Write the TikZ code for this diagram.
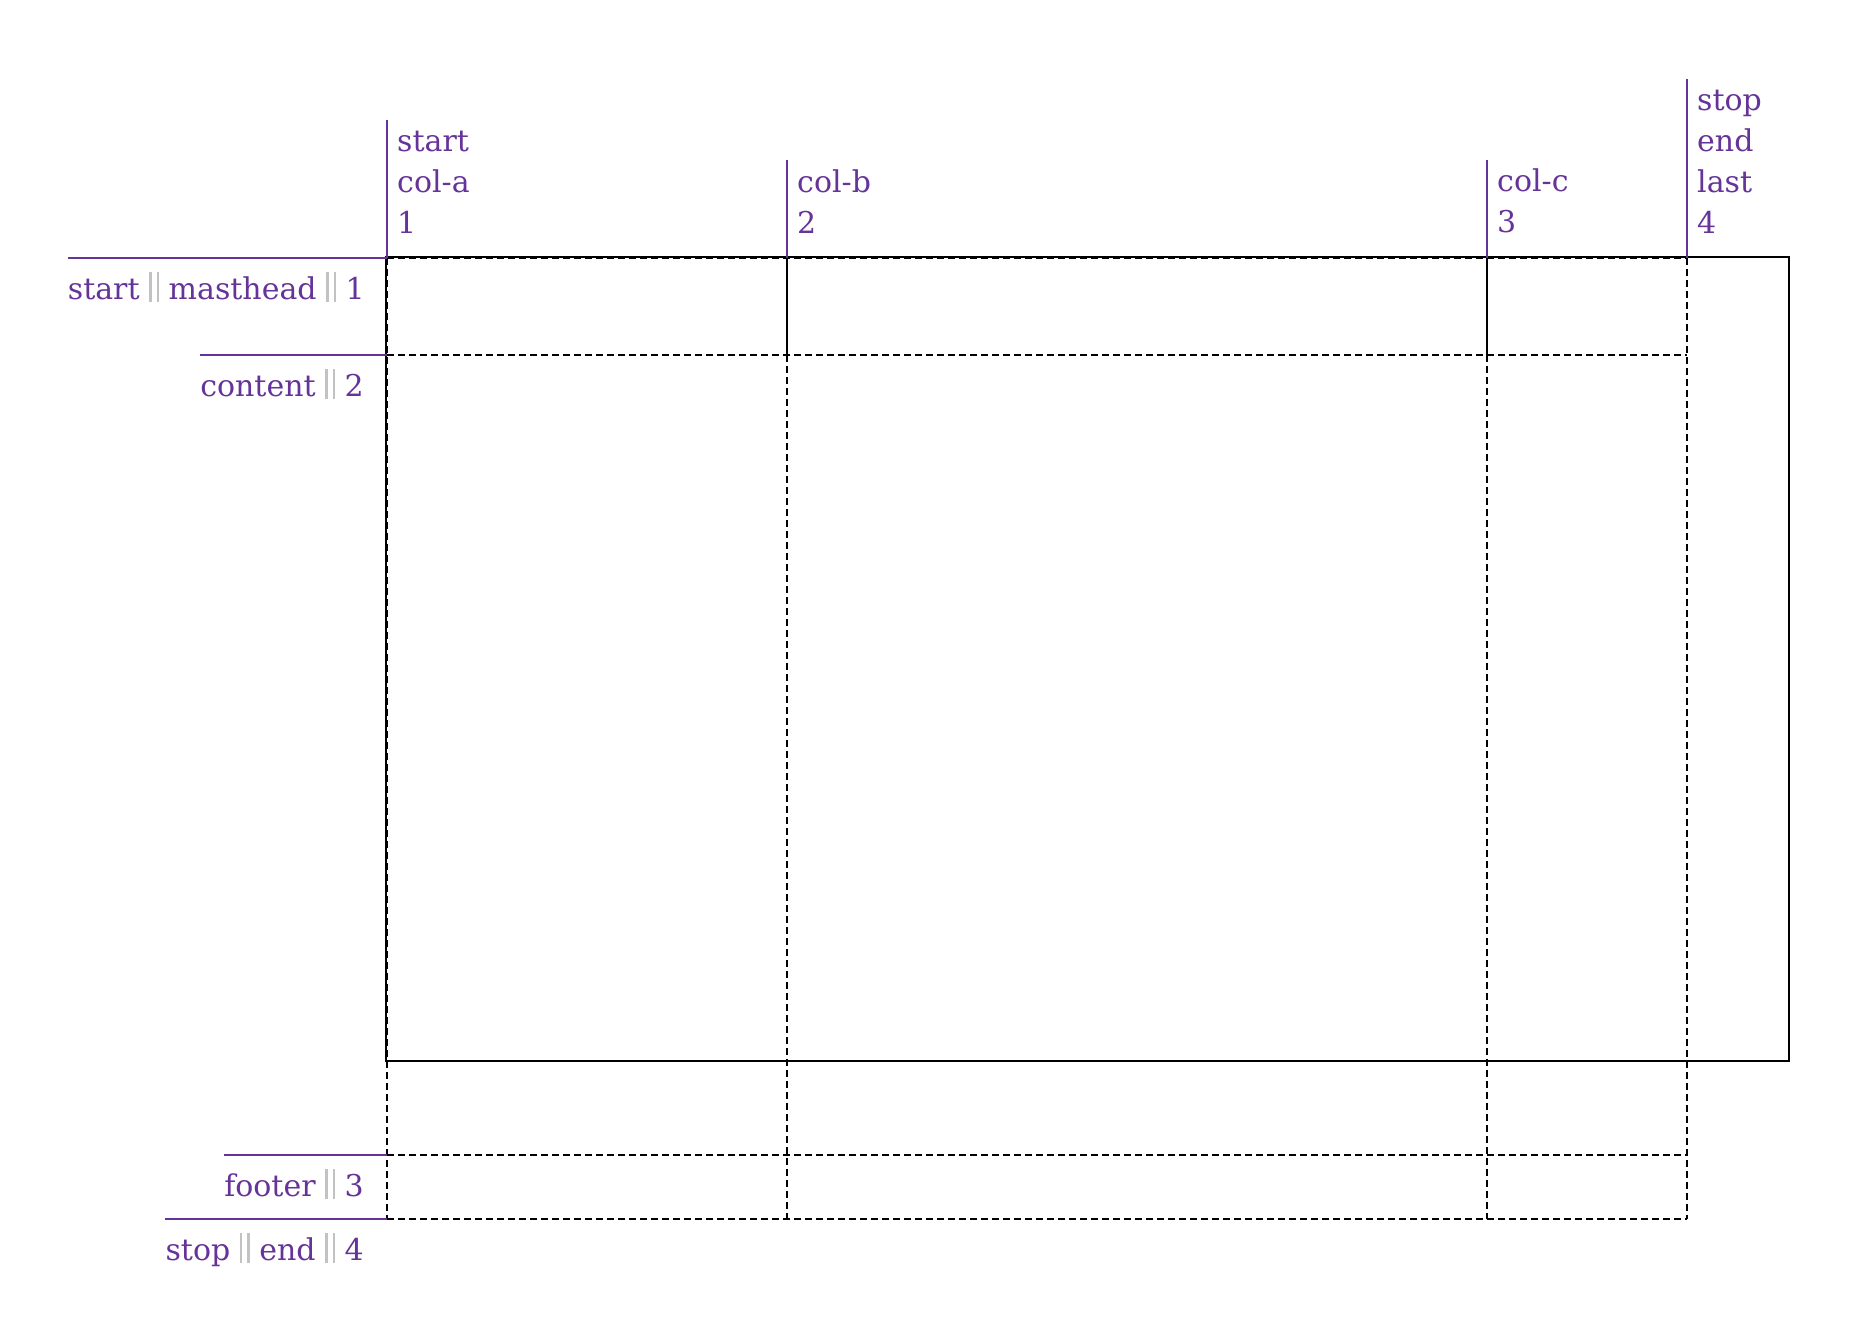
\documentclass[tikz,border=0pt]{standalone}
\usepackage{fontspec}
\setmainfont{DejaVu Serif}
\usetikzlibrary{positioning}
\definecolor{lilac}{HTML}{663399}
\definecolor{bargrey}{HTML}{C2C2C2}
\newcommand{\bars}{\textcolor{bargrey}{\rule[-3bp]{2.5bp}{30bp}\hspace{5bp}\rule[-3bp]{2.5bp}{30bp}}}

\begin{document}
\begin{tikzpicture}[x = 1bp, y = -1bp, guide/.style = {lilac, line width=2bp}, cell/.style = {black, line width=1.8bp, dash pattern=on 7bp off 4bp}, frame/.style = {black, line width=2bp}, rowlabel/.style = {lilac, inner sep=0pt, anchor=base east, font=\fontsize{30bp}{41bp}\selectfont}, collabel/.style = {lilac, inner sep=0pt, anchor=south west, align=left, font=\fontsize{30bp}{41bp}\selectfont}]

    \useasboundingbox (0,0) rectangle (1860,1318);

    % coordinates
    \foreach \c/\x in {a/387,b/787,c/1487,d/1687}
        \foreach \r/\y in {1/258,2/355,3/1155,4/1219}
            \coordinate (\c\r) at (\x,\y);
    \coordinate (atop) at (387,120);
    \coordinate (btop) at (787,160.5);
    \coordinate (ctop) at (1487,160);
    \coordinate (dtop) at (1687,79.5);

    % container
    \draw[frame] (385.7,257) rectangle (1789,1061);

    % tracks
    \foreach \r in {1,2,3,4}
        \draw[cell] (a\r) -- (d\r);
    \draw[cell] (a1) -- (a4);
    \draw[cell] (d1) -- (d4);
    \draw[cell] (b2) -- (b4);
    \draw[cell] (c2) -- (c4);
    \draw[frame] (b1) -- (b2);
    \draw[frame] (c1) -- (c2);

    % row names
    \node[rowlabel] (rmast) at (365,299.5) {start \bars{} masthead \bars{} 1};
    \node[rowlabel] (rcont) at (364,396) {content \bars{} 2};
    \node[rowlabel] (rfoot) at (364,1196) {footer \bars{} 3};
    \node[rowlabel] (rstop) at (364,1260) {stop \bars{} end \bars{} 4};
    \draw[guide] (rmast.west |- a1) -- (a1);
    \draw[guide] (rcont.west |- a2) -- (a2);
    \draw[guide] (rfoot.west |- a3) -- (a3);
    \draw[guide] (rstop.west |- a4) -- (a4);

    % column names
    \node[collabel] (ccola) at (397,233.5) {start\\col-a\\1};
    \node[collabel] (ccolb) at (797,234) {col-b\\2};
    \node[collabel] (ccolc) at (1497,233.5) {col-c\\3};
    \node[collabel] (cstop) at (1697,234) {stop\\end\\last\\4};
    \draw[guide] (atop) -- (a1);
    \draw[guide] (btop) -- (b1);
    \draw[guide] (ctop) -- (c1);
    \draw[guide] (dtop) -- (d1);

\end{tikzpicture}
\end{document}
